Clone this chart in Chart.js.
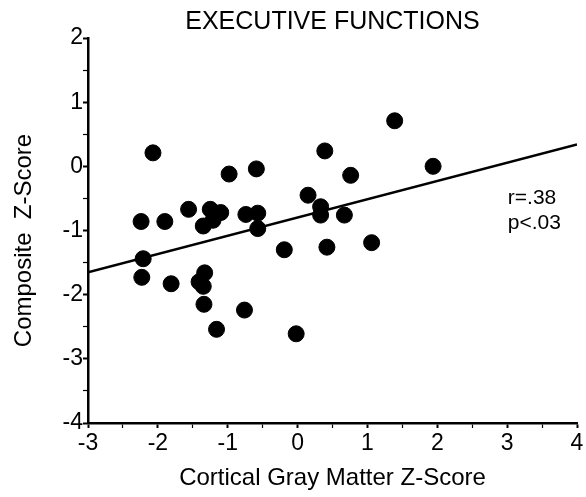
<!DOCTYPE html>
<html>
<head>
<meta charset="utf-8">
<title>Executive Functions</title>
<script src="https://cdn.jsdelivr.net/npm/chart.js@4/dist/chart.umd.min.js"></script>
<style>
  html, body { margin: 0; padding: 0; background: #fff; }
  #wrap { width: 586px; height: 497px; }
</style>
</head>
<body>
<div id="wrap"><canvas id="chart"></canvas></div>
<script>
// Subject scores: cortical gray matter (x) vs. executive composite (y)
const grayMatterZ = [
  -2.24, -2.21, -2.23, -2.07, -1.90, -1.81, -1.56, -1.41, -1.35, -1.33,
  -1.34, -1.35, -1.25, -1.21, -1.10, -1.16, -0.98, -0.76, -0.74, -0.59,
  -0.57, -0.57, -0.19, -0.02, 0.15, 0.33, 0.33, 0.39, 0.42, 0.67,
  0.76, 1.06, 1.39, 1.94
];
const compositeZ = [
  -0.86, -1.44, -1.73, 0.21, -0.86, -1.83, -0.67, -1.80, -1.87, -1.66,
  -2.15, -0.93, -0.67, -0.84, -0.72, -2.54, -0.12, -2.24, -0.75, -0.04,
  -0.73, -0.97, -1.30, -2.61, -0.45, -0.63, -0.76, 0.24, -1.26, -0.76,
  -0.14, -1.19, 0.71, 0.00
];

// Regression line end points
const fitX = [-3, 4];
const fitY = [-1.65, 0.34];

const xTicks = [-3, -2, -1, 0, 1, 2, 3, 4];
const yTicks = [-4, -3, -2, -1, 0, 1, 2];

const statLines = ['r=.38', 'p<.03'];

const FONT = '"Liberation Sans", Arial, Helvetica, sans-serif';

// Title and r / p annotation drawn on top of the chart
const annotations = {
  id: 'annotations',
  afterDraw(chart) {
    const ctx = chart.ctx;
    const area = chart.chartArea;
    const xs = chart.scales.x;
    const ys = chart.scales.y;
    ctx.save();
    ctx.fillStyle = '#000';
    ctx.font = '25px ' + FONT;
    ctx.textAlign = 'center';
    ctx.textBaseline = 'alphabetic';
    ctx.fillText('EXECUTIVE FUNCTIONS', (area.left + area.right) / 2, 29);

    ctx.font = '21px ' + FONT;
    ctx.textAlign = 'left';
    const tx = xs.getPixelForValue(3.01);
    const ty = ys.getPixelForValue(-0.58);
    statLines.forEach((t, i) => ctx.fillText(t, tx, ty + i * 25));
    ctx.restore();
  }
};

const isMajor = (v) => Number.isInteger(v);

new Chart(document.getElementById('chart'), {
  type: 'scatter',
  data: {
    datasets: [
      {
        label: 'Subjects',
        data: grayMatterZ.map((x, i) => ({ x: x, y: compositeZ[i] })),
        backgroundColor: '#000',
        borderColor: '#000',
        pointRadius: 8,
        pointHoverRadius: 8,
        order: 2
      },
      {
        type: 'line',
        label: 'Fit',
        data: fitX.map((x, i) => ({ x: x, y: fitY[i] })),
        borderColor: '#000',
        borderWidth: 2.5,
        pointRadius: 0,
        fill: false,
        order: 1
      }
    ]
  },
  options: {
    responsive: true,
    maintainAspectRatio: false,
    animation: false,
    events: [],
    layout: { padding: { top: 38, right: 9, left: 0, bottom: 0 } },
    plugins: {
      legend: { display: false },
      tooltip: { enabled: false }
    },
    scales: {
      x: {
        type: 'linear',
        min: xTicks[0],
        max: xTicks[xTicks.length - 1],
        afterFit: (scale) => { scale.height = 74; },
        border: { color: '#000', width: 2.5 },
        grid: {
          drawOnChartArea: false,
          tickLength: 5,
          tickColor: '#000',
          tickWidth: (c) => isMajor(c.tick.value) ? 2 : 1.2
        },
        ticks: {
          stepSize: 0.5,
          autoSkip: false,
          maxRotation: 0,
          padding: 2,
          color: '#000',
          font: { family: FONT, size: 23 },
          callback: (v) => xTicks.includes(v) ? String(v) : ''
        },
        title: {
          display: true,
          text: 'Cortical Gray Matter Z-Score',
          color: '#000',
          font: { family: FONT, size: 24 },
          padding: { top: 0, bottom: 4 }
        }
      },
      y: {
        type: 'linear',
        min: yTicks[0],
        max: yTicks[yTicks.length - 1],
        afterFit: (scale) => { scale.width = 88; },
        border: { color: '#000', width: 2.5 },
        grid: {
          drawOnChartArea: false,
          tickLength: 5,
          tickColor: '#000',
          tickWidth: (c) => isMajor(c.tick.value) ? 2 : 1.2
        },
        ticks: {
          stepSize: 0.5,
          autoSkip: false,
          padding: 0,
          color: '#000',
          font: { family: FONT, size: 23 },
          callback: (v) => yTicks.includes(v) ? String(v) : ''
        },
        title: {
          display: true,
          // trailing spaces nudge the rotated label down a little
          text: 'Composite  Z-Score   ',
          color: '#000',
          font: { family: FONT, size: 24 },
          padding: { top: 10, bottom: 0 }
        }
      }
    }
  },
  plugins: [annotations]
});
</script>
</body>
</html>
